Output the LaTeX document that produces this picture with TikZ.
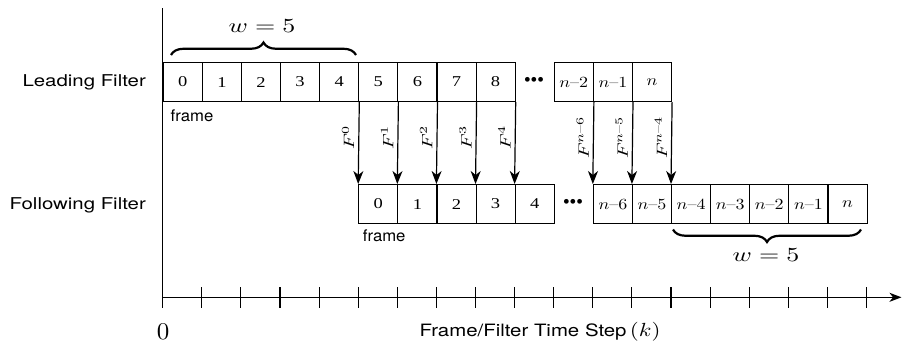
\documentclass[tikz,border=0pt]{standalone}
\usepackage[no-math]{fontspec}
\usepackage{amsmath}
\usepackage{graphicx}
\setsansfont{TeX Gyre Heros}
\newfontfamily\tms{Liberation Serif}
\usetikzlibrary{arrows.meta,decorations.pathreplacing}
% \sx{horizontal}{vertical}{text}
\newcommand\sx[3]{\scalebox{#1}[#2]{#3}}
\newcommand\cellnum[1]{\sx{1.85}{1.5}{\tms #1}}
\newcommand\cellmath[1]{\sx{1.8}{1.55}{#1}}
\newcommand\flabel[1]{\sx{2.0}{1.5}{#1}}
\begin{document}
\begin{tikzpicture}[x=1pt,y=-1pt,
  cell/.style={draw, line width=1.1pt, minimum width=39.1pt, minimum height=39pt,
    inner sep=0pt, anchor=north west},
  side/.style={anchor=base east, inner sep=0pt, font=\sffamily},
  small/.style={anchor=base west, inner sep=0pt, font=\sffamily},
  dots/.style={inner sep=0pt, font=\sffamily\bfseries},
  arr/.style={line width=1.2pt, -{Stealth[length=13pt,width=10pt,inset=4pt]}},
  flab/.style={rotate=90, anchor=south, pos=0.434, inner sep=4pt},
  brc/.style={decorate, line width=2.2pt, decoration={brace, amplitude=12.5pt}},
  wlab/.style={inner sep=0pt},
  axisline/.style={line width=1.3pt},
  tick/.style={line width=1.1pt}]
\useasboundingbox (0,0) rectangle (902,349);

% row labels
\node[side] (lead) at (146,86.7) {\sx{2.04}{1.63}{Leading Filter}};
\node[side] (foll) at (146,209.5) {\sx{2.04}{1.63}{Following Filter}};

% leading filter cells
\foreach \i in {0,...,8}
  \node[cell] (L\i) at ({162.7+39.1*\i},62) {\cellnum{\i}};
\node[dots] (ld) at (534,81.5) {\sx{1.9}{1.9}{•••}};
\node[cell] (Ln2) at ({162.7+39.1*10},62) {\cellmath{$n$--$2$}};
\node[cell] (Ln1) at ({162.7+39.1*11},62) {\cellmath{$n$--$1$}};
\node[cell] (Ln)  at ({162.7+39.1*12},62) {\cellmath{$n$}};

% following filter cells
\foreach \i in {0,...,4}
  \node[cell] (F\i) at ({162.7+39.1*(\i+5)},184) {\cellnum{\i}};
\node[dots] (fd) at (573,203) {\sx{1.9}{1.9}{•••}};
\node[cell] (Fn6) at ({162.7+39.1*11},184) {\cellmath{$n$--$6$}};
\node[cell] (Fn5) at ({162.7+39.1*12},184) {\cellmath{$n$--$5$}};
\node[cell] (Fn4) at ({162.7+39.1*13},184) {\cellmath{$n$--$4$}};
\node[cell] (Fn3) at ({162.7+39.1*14},184) {\cellmath{$n$--$3$}};
\node[cell] (Fn2) at ({162.7+39.1*15},184) {\cellmath{$n$--$2$}};
\node[cell] (Fn1) at ({162.7+39.1*16},184) {\cellmath{$n$--$1$}};
\node[cell] (Fn)  at ({162.7+39.1*17},184) {\cellmath{$n$}};

% frame labels
\node[small] (fr1) at (170.5,121.5) {\sx{1.67}{1.6}{frame}};
\node[small] (fr2) at (362.7,241.5) {\sx{1.67}{1.6}{frame}};

% filter arrows
\foreach \a/\b/\t in {L4/F0/0, L5/F1/1, L6/F2/2, L7/F3/3, L8/F4/4}
  \draw[arr] (\a.south east) -- node[flab] {\flabel{$F^{\t}$}} (\b.north west);
\draw[arr] (Ln2.south east) -- node[flab] {\flabel{$F^{n\text{--}6}$}} (Fn6.north west);
\draw[arr] (Ln1.south east) -- node[flab] {\flabel{$F^{n\text{--}5}$}} (Fn5.north west);
\draw[arr] (Ln.south east)  -- node[flab] {\flabel{$F^{n\text{--}4}$}} (Fn4.north west);

% braces
\coordinate (b1a) at (171,55);
\coordinate (b1b) at (356,55);
\draw[brc] (b1a) -- (b1b);
\node[wlab] (w1) at (262,26) {\sx{2.6}{2.0}{$w=5$}};
\coordinate (b2a) at (861,229.5);
\coordinate (b2b) at (673,229.5);
\draw[brc] (b2a) -- (b2b);
\node[wlab] (w2) at (766,255.5) {\sx{2.6}{2.0}{$w=5$}};

% axes
\coordinate (O) at (162.7,297.3);
\coordinate (Y) at (162.7,8);
\coordinate (X) at (901.5,297.3);
\draw[axisline] (Y) -- (O);
\draw[axisline, -{Stealth[length=12pt,width=9pt,inset=3.5pt]}] (O) -- (X);
\foreach \k in {0,...,18}
  \draw[tick] ({162.7+39.1*\k},287.3) -- ++(0,20.4);
\node[inner sep=0pt, anchor=base] (zero) at (163,339.5) {\sx{2.5}{2.4}{0}};
\node[inner sep=0pt, anchor=base] (xl) at (540,336.5)
  {\sx{2.04}{1.7}{\sffamily Frame/Filter Time Step} \sx{2.3}{1.9}{$(k)$}};
\end{tikzpicture}
\end{document}
